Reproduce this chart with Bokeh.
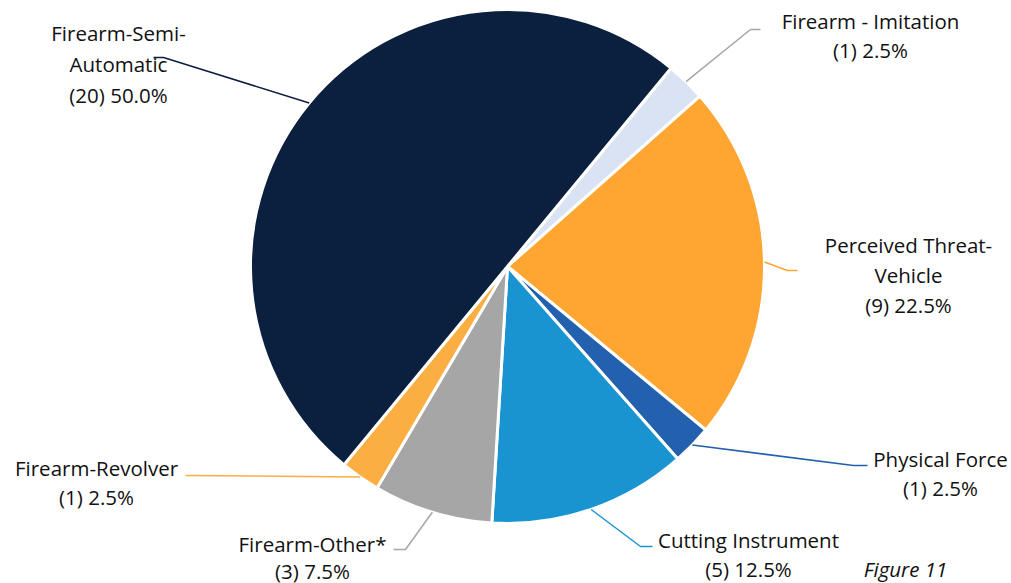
import math
from bokeh.plotting import figure
from bokeh.models import Range1d
from bokeh.core.properties import value
from bokeh.embed import file_html
from bokeh.resources import INLINE

# ---- data (clockwise order starting at the upper-right edge) ----
categories = ["Firearm - Imitation", "Perceived Threat-Vehicle", "Physical Force",
              "Cutting Instrument", "Firearm-Other*", "Firearm-Revolver",
              "Firearm-Semi-Automatic"]
counts = [1, 9, 1, 5, 3, 1, 20]
colors = ["#DAE3F3", "#FFA532", "#2360AE", "#1A94D1", "#A6A6A6", "#FBAE42", "#0B1F3F"]
leader_colors = ["#A6A6A6", "#FFA532", "#2360AE", "#1A94D1", "#A6A6A6", "#FBAE42", "#0B1F3F"]
label_lines = [["Firearm - Imitation"], ["Perceived Threat-", "Vehicle"], ["Physical Force"],
               ["Cutting Instrument"], ["Firearm-Other*"], ["Firearm-Revolver"],
               ["Firearm-Semi-", "Automatic"]]
caption = "Figure 11"

# ---- layout (pixel coords, y measured from top) ----
W, H = 1011, 583
CX, CY, R = 507, 266, 257
START_DEG = 50.5
# label: (center x, first line y), elbow point, end of horizontal
label_pos = [(870, 20), (908, 244), (940, 458), (748, 539), (312, 543), (96, 467), (118, 32)]
line_gaps = [29, 30, 29, 29, 27, 29, 31]
elbows = [(750, 29), (787, 270), (853, 465), (640, 546), (405, 549), (185, 475), (163, 57)]
ends = [(760, 29), (797, 270), (867, 465), (652, 546), (393, 549), (185, 475), (153, 57)]

def fy(y):
    return H - y

p = figure(width=W, height=H, output_backend="svg", toolbar_location=None,
           x_range=Range1d(0, W), y_range=Range1d(0, H), min_border=0)
p.axis.visible = False
p.grid.visible = False
p.outline_line_color = None
p.background_fill_color = "white"

total = sum(counts)
cur = START_DEG
FONT = value("Open Sans")
FS = "20.5px"
for i, n in enumerate(counts):
    frac = n / total
    a0 = cur - frac * 360
    a1 = cur
    cur = a0
    p.wedge(x=CX, y=fy(CY), radius=R, start_angle=math.radians(a0), end_angle=math.radians(a1),
            direction="anticlock", fill_color=colors[i], line_color="white", line_width=3)
    mid = math.radians((a0 + a1) / 2)
    sx = CX + R * math.cos(mid)
    sy = CY - R * math.sin(mid)
    ex, ey = elbows[i]
    hx, hy = ends[i]
    p.line(x=[sx, ex, hx], y=[fy(sy), fy(ey), fy(hy)], line_color=leader_colors[i], line_width=1.5)
    lx, ly = label_pos[i]
    lines = label_lines[i] + [f"({n}) {frac * 100:.1f}%"]
    for k, t in enumerate(lines):
        p.text(x=[lx], y=[fy(ly + k * line_gaps[i])], text=[t], text_align="center", text_baseline="middle",
               text_font=FONT, text_font_size=FS, text_color="#111111")

p.text(x=[905], y=[fy(568)], text=[caption], text_align="center", text_baseline="middle",
       text_font=FONT, text_font_size=FS, text_font_style="italic", text_color="#111111")

open("out.html", "w").write(file_html(p, INLINE))
